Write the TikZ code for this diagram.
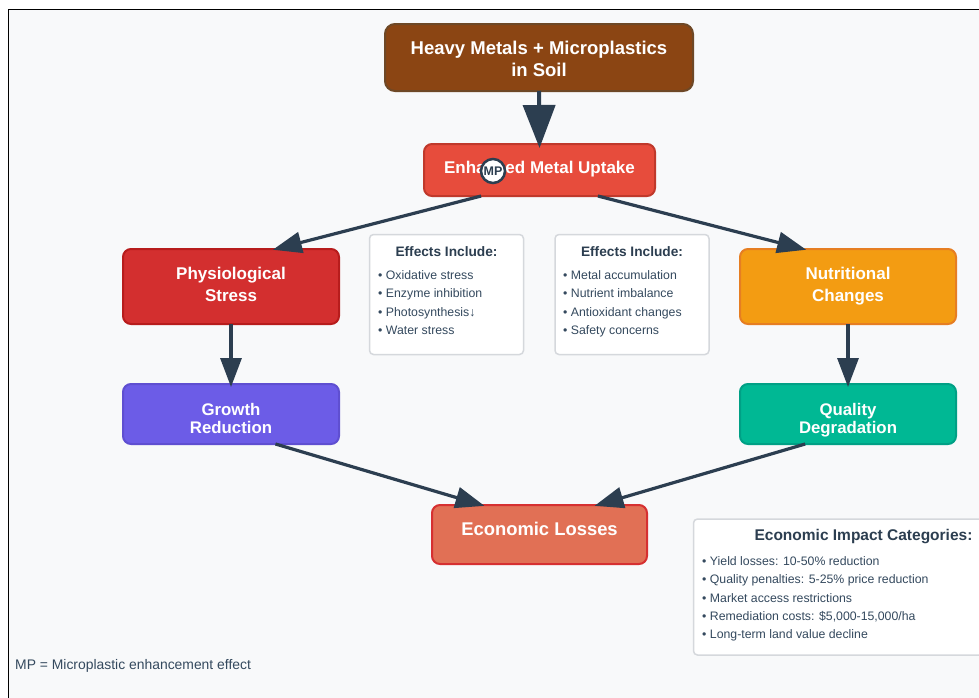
\documentclass[tikz,border=0pt]{standalone}
\usepackage{fontspec}
\usepackage{xcolor}
\setmainfont{Liberation Sans}
\usetikzlibrary{arrows.meta}
\definecolor{inkdark}{HTML}{2C3E50}
\definecolor{inktext}{HTML}{34495E}
\definecolor{pagebg}{HTML}{F8F9FA}
\definecolor{notegray}{HTML}{D5D8DC}

\begin{document}
\begin{tikzpicture}[x=1pt, y=-1pt,
  flowbox/.style={rectangle, rounded corners=8pt, draw, line width=2pt, inner sep=0, outer sep=0,
    align=center, text=white, font=\bfseries\fontsize{17}{22}\selectfont},
  tightbox/.style={flowbox, text height=38pt, text depth=0pt, font=\bfseries\fontsize{16.8}{18}\selectfont},
  notebox/.style={rectangle, rounded corners=4pt, draw=notegray, fill=white, line width=1.5pt, inner sep=0, outer sep=0},
  notetitle/.style={text=inkdark, inner sep=0, font=\bfseries\fontsize{13.7}{16}\selectfont},
  notelist/.style={text=inktext, inner sep=0, align=left, font=\fontsize{12.3}{18.3}\selectfont},
  flowarrow/.style={draw=inkdark, line width=3.2pt, shorten >=-3pt, -{Triangle[length=29pt, width=21pt]}},
  bigarrow/.style={flowarrow, line width=4pt, shorten >=-4pt, -{Triangle[length=43pt, width=32pt]}}]

  % Page and frame
  \path[use as bounding box, fill=white] (0,0) rectangle (979,697);
  \draw[black, fill=pagebg, line width=1pt] (8.5,9) rectangle (995,715);

  % Top of the flow
  \node[flowbox, rounded corners=10pt, fill={rgb,255:red,139;green,69;blue,19}, draw={rgb,255:red,110;green,72;blue,38},
    minimum width=308pt, minimum height=67pt, text height=39pt, font=\bfseries\fontsize{18.5}{22}\selectfont] (soil) at (539,57.5) {Heavy Metals + Microplastics\\in Soil};
  \node[flowbox, fill={rgb,255:red,231;green,76;blue,60}, draw={rgb,255:red,192;green,57;blue,43},
    minimum width=231pt, minimum height=52pt, text depth=5.6pt] (uptake) at (539.5,170) {Enhanced Metal Uptake};

  % Left branch
  \node[flowbox, fill={rgb,255:red,211;green,47;blue,47}, draw={rgb,255:red,183;green,28;blue,28},
    minimum width=216pt, minimum height=75pt, text depth=4pt] (physio) at (231,286.5) {Physiological\\Stress};
  \node[tightbox, fill={rgb,255:red,108;green,92;blue,231}, draw={rgb,255:red,95;green,79;blue,209},
    minimum width=216pt, minimum height=60pt] (growth) at (231,414) {Growth\\Reduction};

  % Right branch
  \node[flowbox, fill={rgb,255:red,243;green,156;blue,18}, draw={rgb,255:red,230;green,126;blue,34},
    minimum width=216pt, minimum height=75pt, text depth=4pt] (nutri) at (848,286.5) {Nutritional\\Changes};
  \node[tightbox, fill={rgb,255:red,0;green,184;blue,148}, draw={rgb,255:red,0;green,160;blue,133},
    minimum width=216pt, minimum height=60pt] (quality) at (848,414) {Quality\\Degradation};

  % Bottom of the flow
  \node[flowbox, fill={rgb,255:red,225;green,112;blue,85}, draw={rgb,255:red,214;green,48;blue,49},
    minimum width=215pt, minimum height=59pt, text depth=11pt, font=\bfseries\fontsize{18.4}{22}\selectfont] (econ) at (539.5,534.5) {Economic Losses};

  % Arrows
  \draw[bigarrow] (soil.south) -- (uptake.north);
  \draw[flowarrow] (uptake.-156) -- (physio.40);
  \draw[flowarrow] (uptake.-24) -- (nutri.140);
  \draw[flowarrow] (physio.south) -- (growth.north);
  \draw[flowarrow] (nutri.south) -- (quality.north);
  \draw[flowarrow] (growth.-34) -- (econ.153);
  \draw[flowarrow] (quality.-145) -- (econ.27);

  % Marker on the uptake box
  \node[circle, draw=inkdark, fill=white, line width=2.5pt, minimum size=24pt, inner sep=0,
    text=inkdark, font=\bfseries\fontsize{12.5}{12.5}\selectfont] (mp) at (493,171) {\raisebox{-2pt}{MP}};

  % Notes
  \node[notebox, minimum width=154pt, minimum height=120pt] (leftnote) at (446.5,294.5) {};
  \node[notetitle] (lefttitle) at (446.5,252) {Effects Include:};
  \node[notelist, anchor=north west] (leftlist) at (378,270.5) {• Oxidative stress\\• Enzyme inhibition\\• Photosynthesis↓\\• Water stress};

  \node[notebox, minimum width=154pt, minimum height=120pt] (rightnote) at (632,294.5) {};
  \node[notetitle] (righttitle) at (632,252) {Effects Include:};
  \node[notelist, anchor=north west] (rightlist) at (563,270.5) {• Metal accumulation\\• Nutrient imbalance\\• Antioxidant changes\\• Safety concerns};

  \node[notebox, minimum width=310pt, minimum height=136pt] (costnote) at (848.5,587) {};
  \node[notetitle, font=\bfseries\fontsize{15.5}{18}\selectfont] (costtitle) at (863.5,536.5) {Economic Impact Categories:};
  \node[notelist, anchor=north west] (costlist) at (702,556.5) {• Yield losses: 10-50\% reduction\\• Quality penalties: 5-25\% price reduction\\• Market access restrictions\\• Remediation costs: \$5,000-15,000/ha\\• Long-term land value decline};

  % Legend
  \node[text=inktext, inner sep=0, anchor=west, font=\fontsize{13.9}{16}\selectfont] (legend) at (15,665.5) {MP = Microplastic enhancement effect};
\end{tikzpicture}
\end{document}
